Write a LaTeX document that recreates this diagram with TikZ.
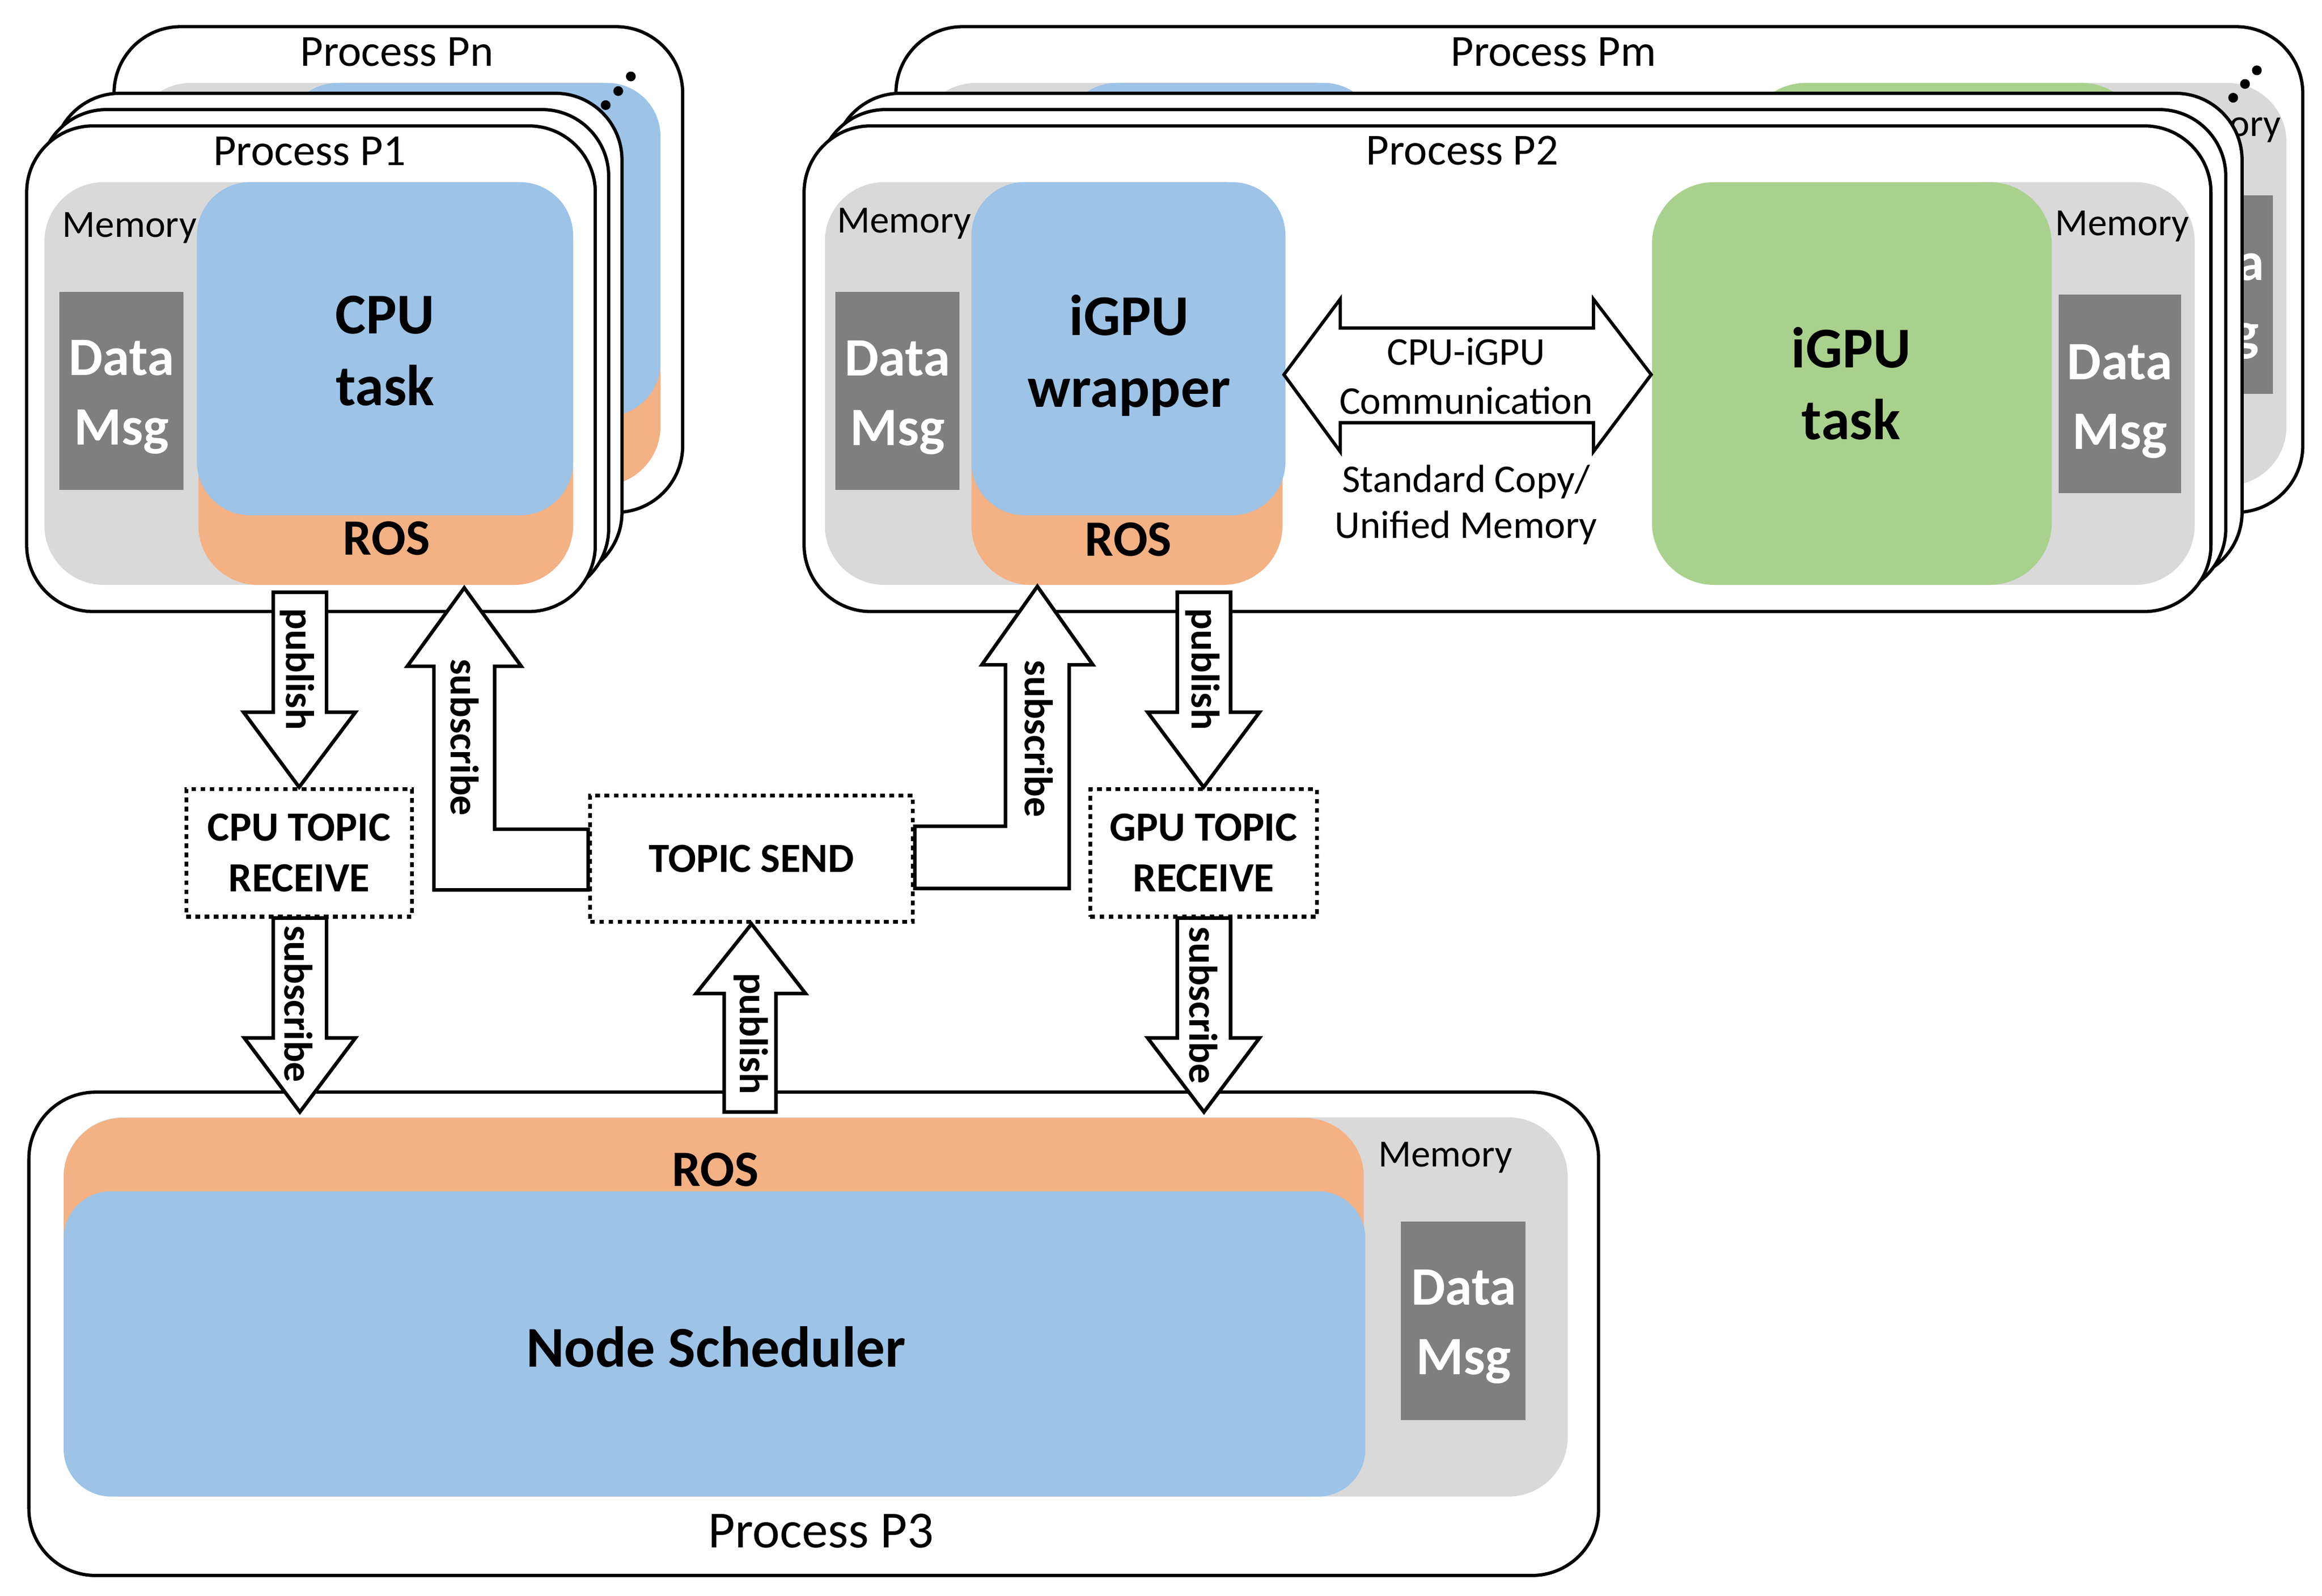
\documentclass[tikz,border=0pt]{standalone}
\usepackage{fontspec}
\setmainfont{Carlito}
\usetikzlibrary{calc}
\definecolor{blueC}{HTML}{9DC3E6}
\definecolor{orangeC}{HTML}{F4B183}
\definecolor{greenC}{HTML}{A9D18E}
\definecolor{greyC}{HTML}{D9D9D9}
\definecolor{darkC}{HTML}{7F7F7F}
\begin{document}
\begin{tikzpicture}[x=0.5pt,y=-0.5pt,
 procframe/.style={draw=black,line width=1.1pt,fill=white,rounded corners=22.5pt},
 memfill/.style={fill=greyC,rounded corners=20pt},
 rosfill/.style={fill=orangeC,rounded corners=20pt},
 taskfill/.style={fill=blueC,rounded corners=18pt},
 gpufill/.style={fill=greenC,rounded corners=21pt},
 dmfill/.style={fill=darkC},
 ptitle/.style={font=\fontsize{15}{18}\selectfont,inner sep=0pt},
 memlbl/.style={font=\fontsize{13}{16}\selectfont,inner sep=0pt},
 dmlbl/.style={text=white,font=\bfseries\fontsize{18.3}{23.5}\selectfont,align=center,inner sep=0pt},
 biglbl/.style={font=\bfseries\fontsize{19.5}{24.3}\selectfont,align=center,inner sep=0pt},
 roslbl/.style={font=\bfseries\fontsize{17.2}{20}\selectfont,inner sep=0pt},
 commlbl/.style={font=\fontsize{13.3}{16.7}\selectfont,align=center,inner sep=0pt},
 copylbl/.style={font=\fontsize{13.3}{15.4}\selectfont,align=center,inner sep=0pt},
 topicbox/.style={draw=black,line width=1.3pt,dash pattern=on 1.6pt off 1.5pt,fill=white,font=\bfseries\fontsize{14}{17.1}\selectfont,align=center,inner sep=0pt},
 blk/.style={draw=black,line width=1.2pt,fill=white,line join=miter},
 arrlbl/.style={font=\bfseries\fontsize{13.5}{16}\selectfont,rotate=-90,inner sep=0pt},
 dotc/.style={fill=black}
]
\useasboundingbox (0,0) rectangle (1568,1077.6);

% ================= Process Pn stack =================
\draw[procframe] (77,18) rectangle (461,346);
\node[ptitle] (pnt) at (268,35) {Process Pn};
\begin{scope}[shift={(59,-67)}]
 \fill[memfill] (30,123) rectangle (387,395);
 \fill[rosfill] (134,123) rectangle (387,395);
 \fill[taskfill] (133,123) rectangle (387,348);
\end{scope}
\draw[procframe] (36,63) rectangle (420,391);
\draw[procframe] (27,74) rectangle (411,402);
% Process P1
\draw[procframe] (18,85) rectangle (402,413);
\node[ptitle] (p1t) at (209,102.3) {Process P1};
\fill[memfill] (30,123) rectangle (387,395);
\fill[rosfill] (134,123) rectangle (387,395);
\fill[taskfill] (133,123) rectangle (387,348);
\fill[dmfill] (40,197) rectangle (124,331);
\node[dmlbl] (p1dm) at (82,268) {Data\\Msg};
\node[memlbl] (p1mem) at (87.5,154) {Memory};
\node[biglbl] (p1task) at (260,237) {CPU\\task};
\node[roslbl] (p1ros) at (261,363.5) {ROS};
\fill[dotc] (409,71) circle (1.65pt);
\fill[dotc] (417.5,61.5) circle (1.65pt);
\fill[dotc] (426,51.6) circle (1.65pt);

% ================= Process Pm stack =================
\draw[procframe] (605,18) rectangle (1555,346);
\node[ptitle] (pmt) at (1049,35) {Process Pm};
\begin{scope}[shift={(62,-67)}]
 \fill[memfill] (557,123) rectangle (866,395);
 \fill[rosfill] (656,123) rectangle (866,395);
 \fill[taskfill] (656,123) rectangle (868,348);
 \fill[memfill] (1300,123) rectangle (1482,395);
 \fill[gpufill] (1115.5,123) rectangle (1385.5,395);
 \fill[dmfill] (1390,199) rectangle (1473,333);
 \node[dmlbl] (pmdm) at (1431.5,271) {Data\\Msg};
 \node[memlbl] (pmmem) at (1433,152.7) {Memory};
\end{scope}
\draw[procframe] (563,63) rectangle (1514,391);
\draw[procframe] (553,74) rectangle (1503,402);
% Process P2
\draw[procframe] (543,85) rectangle (1493,413);
\node[ptitle] (p2t) at (987.5,101.7) {Process P2};
\fill[memfill] (557,123) rectangle (866,395);
\fill[rosfill] (656,123) rectangle (866,395);
\fill[taskfill] (656,123) rectangle (868,348);
\fill[dmfill] (564,197) rectangle (648,331);
\node[dmlbl] (p2dm) at (606,268.5) {Data\\Msg};
\node[memlbl] (p2mem) at (610.6,151) {Memory};
\node[biglbl] (p2wrap) at (762.5,240) {iGPU\\wrapper};
\node[roslbl] (p2ros) at (762,364.5) {ROS};
\fill[memfill] (1300,123) rectangle (1482,395);
\fill[gpufill] (1115.5,123) rectangle (1385.5,395);
\fill[dmfill] (1390,199) rectangle (1473,333);
\node[dmlbl] (p2dmb) at (1431.5,271) {Data\\Msg};
\node[memlbl] (p2memb) at (1433,152.7) {Memory};
\node[biglbl] (p2task) at (1250,259) {iGPU\\task};
\draw[blk,line width=1.1pt] (867,253) -- (905,202) -- (905,221.5) -- (1076,221.5) -- (1076,202) -- (1115,253) -- (1076,305) -- (1076,285.5) -- (905,285.5) -- (905,305) -- cycle;
\node[commlbl] (comm) at (990,254) {CPU-iGPU\\Communication};
\node[copylbl] (copy) at (990,340.8) {Standard Copy/\\Unified Memory};
\fill[dotc] (1508,66) circle (1.65pt);
\fill[dotc] (1516,56.7) circle (1.65pt);
\fill[dotc] (1524,47.5) circle (1.65pt);

% ================= Process P3 =================
\draw[procframe] (19.5,737.6) rectangle (1079.5,1064);
\fill[memfill] (43,754.6) rectangle (1058.6,1010.7);
\fill[rosfill] (43,755) rectangle (921,1010.7);
\fill[taskfill,rounded corners=16pt] (43,804.5) rectangle (922,1010.7);
\fill[dmfill] (946,825) rectangle (1030,959);
\node[dmlbl] (p3dm) at (988.5,896) {Data\\Msg};
\node[memlbl] (p3mem) at (976,781.7) {Memory};
\node[roslbl] (p3ros) at (483,790) {ROS};
\node[biglbl] (p3sched) at (483.5,909.6) {Node Scheduler};
\node[ptitle,font=\fontsize{17.6}{20}\selectfont] (p3t) at (554.5,1034) {Process P3};

% ================= Topics =================
\node[topicbox,minimum width=76.2pt,minimum height=43.1pt] (cput) at (202,576) {CPU TOPIC\\RECEIVE};
\node[topicbox,minimum width=109pt,minimum height=42.7pt] (send) at (507.5,580) {TOPIC SEND};
\node[topicbox,minimum width=76.5pt,minimum height=43.1pt] (gput) at (812.75,576) {GPU TOPIC\\RECEIVE};

% ================= Block arrows =================
% P1 publish -> CPU TOPIC
\draw[blk] (184.5,400) -- (220.5,400) -- (220.5,481) -- (240,481) -- (cput.north) -- (164.5,481) -- (184.5,481) -- cycle;
% CPU TOPIC subscribe -> P3
\draw[blk] (184.5,620) -- (220.5,620) -- (220.5,701) -- (240,701) -- (202.5,751) -- (165,701) -- (184.5,701) -- cycle;
% TOPIC SEND subscribe -> P1
\draw[blk] (send.west |- 0,601) -- (293,601) -- (293,450) -- (275,450) -- (313.5,397) -- (352,450) -- (334,450) -- (334,560) -- (send.west |- 0,560) -- cycle;
% TOPIC SEND subscribe -> P2
\draw[blk] (send.east |- 0,558) -- (679,558) -- (679,449) -- (663,449) -- (700.5,396) -- (738,449) -- (722,449) -- (722,600) -- (send.east |- 0,600) -- cycle;
% P3 publish -> TOPIC SEND
\draw[blk] (489,751) -- (524,751) -- (524,671) -- (544,671) -- (send.south) -- (470,671) -- (489,671) -- cycle;
% P2 publish -> GPU TOPIC
\draw[blk] (795,400) -- (831,400) -- (831,481) -- (850.5,481) -- (gput.north) -- (775,481) -- (795,481) -- cycle;
% GPU TOPIC subscribe -> P3
\draw[blk] (795,620) -- (831,620) -- (831,701) -- (850.5,701) -- (813,751) -- (775,701) -- (795,701) -- cycle;

\node[arrlbl] (l1) at (200.5,452) {publish};
\node[arrlbl] (l2) at (314,498) {subscribe};
\node[arrlbl] (l3) at (701.5,499) {subscribe};
\node[arrlbl] (l4) at (201.5,678) {subscribe};
\node[arrlbl] (l5) at (507,698) {publish};
\node[arrlbl] (l6) at (812,452) {publish};
\node[arrlbl] (l7) at (812.5,679) {subscribe};
\end{tikzpicture}
\end{document}
